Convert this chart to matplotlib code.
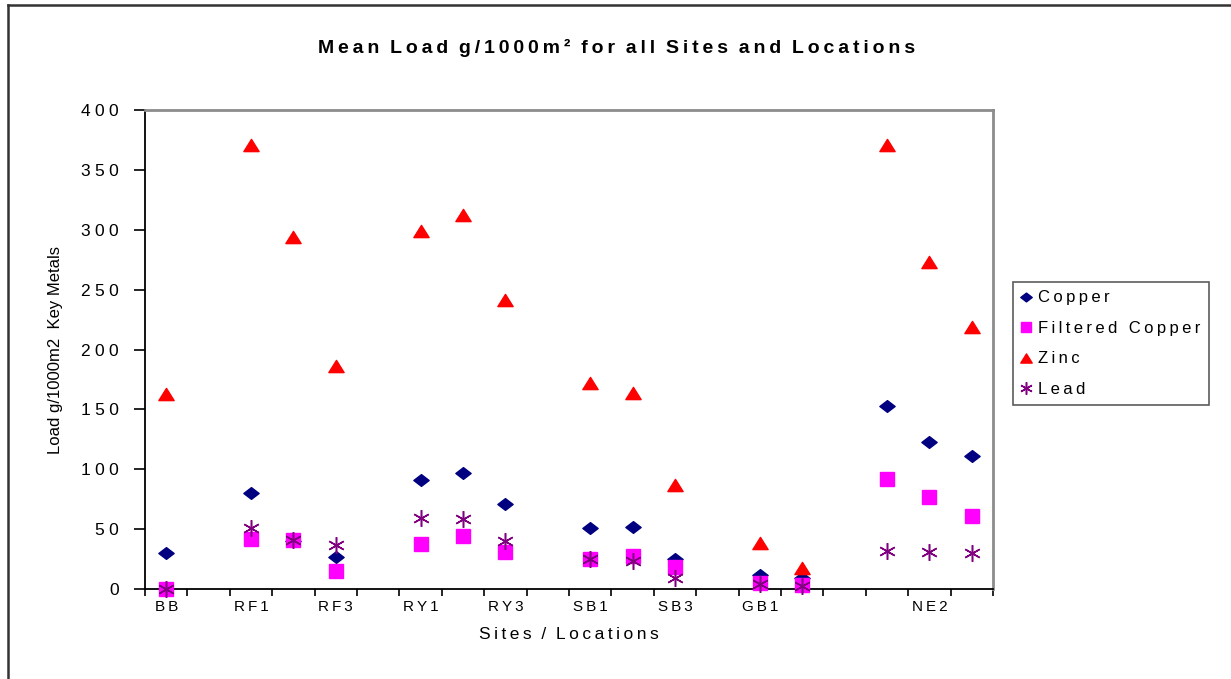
import numpy as np
import matplotlib.pyplot as plt
from matplotlib.path import Path
from matplotlib.lines import Line2D

plt.rcParams["font.family"] = ["Liberation Sans", "DejaVu Sans"]

nan = np.nan

# Sites / locations along the x axis (blank entries are spacer columns)
sites = ["BB", "", "RF1", "RF2", "RF3", "", "RY1", "RY2", "RY3", "",
         "SB1", "SB2", "SB3", "", "GB1", "GB2", "", "NE1", "NE2", "NE3"]

# Mean load g/1000m2 for each metal
copper = [30, nan, 80, 40, 27, nan, 91, 97, 71, nan,
          51, 52, 25, nan, 11.5, 9, nan, 153, 123, 111]
filtered_copper = [0, nan, 42, 41, 15, nan, 37.5, 44, 31, nan,
                   25, 27.5, 18, nan, 5, 3.5, nan, 92, 77, 61]
zinc = [162.5, nan, 371, 294, 186.5, nan, 299, 312, 241, nan,
        172, 164, 87, nan, 38.5, 17.5, nan, 371, 273, 219]
lead = [0, nan, 51, 41, 37, nan, 59.5, 58.5, 40, nan,
        25, 23.5, 9, nan, 4, 2.5, nan, 32, 31, 30]

y_ticks = [0, 50, 100, 150, 200, 250, 300, 350, 400]

THIN = "\u2009"
QUARTER = "\u2005"


def spaced(text, gap=THIN):
    """Put a small space between letters to get the wide tracking."""
    return gap.join(text)


# flattened diamond and triangle markers
diamond = Path([(0, 1), (1.3, 0), (0, -1), (-1.3, 0), (0, 1)], closed=True)
triangle = Path([(0, 1), (1.25, -1), (-1.25, -1), (0, 1)], closed=True)

fig = plt.figure(figsize=(12.31, 6.79), dpi=100)
ax = fig.add_axes([145 / 1231, 1 - 589 / 679, 848 / 1231, 479 / 679])

x = np.arange(len(sites))
series = [
    (copper, "Copper", dict(marker=diamond, ms=11, color="#000080")),
    (filtered_copper, "Filtered Copper", dict(marker="s", ms=9.5, color="#FF00FF")),
    (zinc, "Zinc", dict(marker=triangle, ms=11, color="#FF0000")),
    (lead, "Lead", dict(marker=(6, 2, 0), ms=12, color="#800080", mew=1.1)),
]
for values, name, style in series:
    ax.plot(x, values, ls="none", mec=style["color"], clip_on=False,
            label=spaced(name), zorder=3, **style)

ax.set_xlim(-0.5, len(sites) - 0.5)
ax.set_ylim(0, 400)

# ticks on category boundaries, labels on every other category
ax.set_xticks(np.arange(len(sites) + 1) - 0.5)
ax.set_xticklabels([])
ax.tick_params(axis="x", which="major", direction="out", length=5, width=1.2)
ax.set_xticks(x[::2], minor=True)
ax.set_xticklabels([spaced(s) for s in sites[::2]], minor=True, fontsize=11)
ax.tick_params(axis="x", which="minor", length=0, pad=8)

ax.set_yticks(y_ticks)
ax.set_yticklabels([spaced(str(v), QUARTER) for v in y_ticks], fontsize=12.5)
ax.tick_params(axis="y", direction="out", length=8, width=1.2, pad=11)

for side in ("left", "bottom"):
    ax.spines[side].set_color("#000000")
    ax.spines[side].set_linewidth(1.3)
for side in ("top", "right"):
    ax.spines[side].set_color("#8C8C8C")
    ax.spines[side].set_linewidth(2)

ax.set_ylabel("Load g/1000m2  Key Metals", fontsize=12, labelpad=13)
ax.set_xlabel(spaced("Sites") + "  /  " + spaced("Locations"), fontsize=12.5,
              labelpad=9)

fig.text(617 / 1231, 1 - 48 / 679,
         "  ".join(spaced(w) for w in
                   ["Mean", "Load", "g/1000m\u00b2", "for", "all", "Sites",
                    "and", "Locations"]),
         ha="center", va="center", fontsize=14, fontweight="bold")

leg = ax.legend(loc="upper left", bbox_to_anchor=(1013 / 1231, 1 - 282 / 679),
                bbox_transform=fig.transFigure, fontsize=12, frameon=True,
                fancybox=False, edgecolor="#333333", handlelength=0.6,
                handletextpad=0.4, borderpad=0.5, labelspacing=0.93,
                markerscale=0.75, borderaxespad=0)
leg.get_frame().set_linewidth(1.2)

# outer chart border (left and top edges)
fig.add_artist(Line2D([8 / 1231, 8 / 1231], [0, 1 - 5 / 679],
                      transform=fig.transFigure, color="#333333", lw=1.8))
fig.add_artist(Line2D([8 / 1231, 1], [1 - 5 / 679, 1 - 5 / 679],
                      transform=fig.transFigure, color="#333333", lw=1.8))

fig.savefig("out.png", dpi=100)
